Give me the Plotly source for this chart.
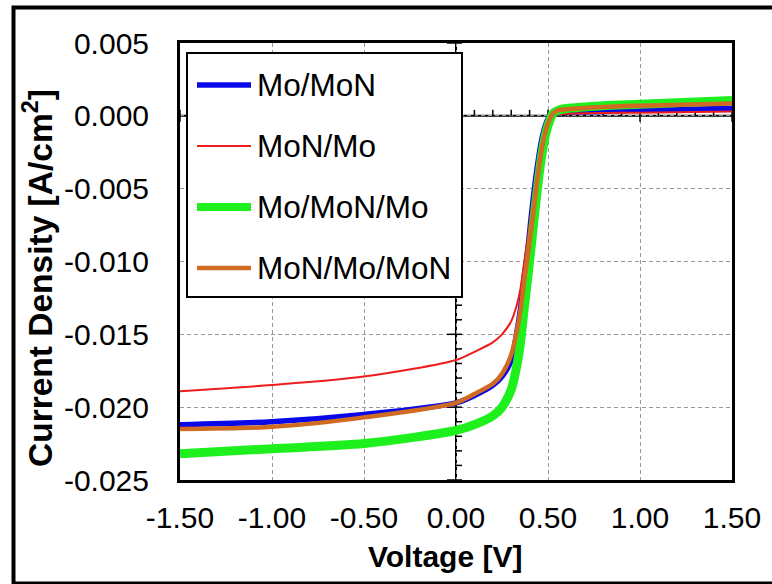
import plotly.graph_objects as go

# ---- J-V data (voltage in V, current density in A/cm^2) ----
voltage = [-1.5, -1.0, -0.5, 0.0, 0.1, 0.2, 0.25, 0.3, 0.33, 0.35, 0.37, 0.39,
           0.41, 0.43, 0.45, 0.47, 0.49, 0.51, 0.53, 0.56, 0.6, 0.8, 1.0, 1.5]

j_mo_mon = [-0.0212, -0.0210, -0.0205, -0.0197, -0.0192, -0.0185, -0.0179, -0.0168,
            -0.0149, -0.0133, -0.0111, -0.0092, -0.0068, -0.0046, -0.0028, -0.0014,
            -0.0005, 0.0000, 0.0001, 0.0002, 0.00025, 0.0003, 0.0004, 0.0005]

j_mon_mo = [-0.0189, -0.01848, -0.0179, -0.01676, -0.0162, -0.01555, -0.0150, -0.0141,
            -0.0130, -0.0119, -0.0102, -0.0084, -0.0065, -0.0047, -0.0031, -0.0017,
            -0.0007, -0.0001, 0.0001, 0.0001, 0.00015, 0.0002, 0.00022, 0.0003]

j_mo_mon_mo = [-0.0232, -0.02285, -0.0225, -0.0216, -0.0212, -0.0206, -0.0200, -0.0188,
               -0.0172, -0.0156, -0.0133, -0.0111, -0.0088, -0.0064, -0.0042, -0.0024,
               -0.0011, -0.0003, 0.0002, 0.0004, 0.0005, 0.0007, 0.0008, 0.00105]

j_mon_mo_mon = [-0.0215, -0.02135, -0.0207, -0.0197, -0.0191, -0.0184, -0.0177, -0.0164,
                -0.0148, -0.0134, -0.0114, -0.0096, -0.0077, -0.0056, -0.0036, -0.0020,
                -0.0009, -0.0002, 0.0002, 0.0004, 0.00045, 0.0006, 0.0007, 0.00085]

series_names = ["Mo/MoN", "MoN/Mo", "Mo/MoN/Mo", "MoN/Mo/MoN"]
series_values = [j_mo_mon, j_mon_mo, j_mo_mon_mo, j_mon_mo_mon]
series_colors = ["#0808e8", "#ee1c1c", "#1ef01e", "#d06c22"]
series_widths = [5.5, 2, 9, 4.5]

x_tickvals = [-1.5, -1.0, -0.5, 0.0, 0.5, 1.0, 1.5]
x_ticklabels = ["-1.50", "-1.00", "-0.50", "0.00", "0.50", "1.00", "1.50"]
y_tickvals = [0.005, 0.0, -0.005, -0.010, -0.015, -0.020, -0.025]
y_ticklabels = ["0.005", "0.000", "-0.005", "-0.010", "-0.015", "-0.020", "-0.025"]

# ---- page geometry (pixels) ----
W, H = 772, 584
L, R, T, B = 180, 732, 43, 480
FONT = "Liberation Sans, Arial, sans-serif"


def px(xp):
    return (xp - L) / (R - L)


def py(yp):
    return (B - yp) / (B - T)


fig = go.Figure()
for name, vals, col, w in zip(series_names, series_values, series_colors, series_widths):
    fig.add_trace(go.Scatter(
        x=voltage, y=vals, name=name, mode="lines",
        line=dict(color=col, width=w, shape="spline", smoothing=0.8),
        showlegend=False,
    ))

shapes = []
# axes crossing at the origin
shapes.append(dict(type="line", xref="x", yref="paper", x0=0, x1=0, y0=0, y1=1,
                   line=dict(color="black", width=2), layer="between"))
shapes.append(dict(type="line", xref="paper", yref="y", x0=0, x1=1, y0=0, y1=0,
                   line=dict(color="black", width=2), layer="between"))
# tick marks on the vertical zero axis (every 0.001)
for k in range(-25, 6):
    major = k % 5 == 0
    shapes.append(dict(type="line", xref="x", yref="y", xsizemode="pixel", xanchor=0,
                       x0=-9 if major else 0, x1=6, y0=k / 1000, y1=k / 1000,
                       line=dict(color="black", width=1.5), layer="between"))
# tick marks on the horizontal zero axis (every 0.1 V)
for k in range(-15, 16):
    major = k % 5 == 0
    shapes.append(dict(type="line", xref="x", yref="y", ysizemode="pixel", yanchor=0,
                       x0=k / 10, x1=k / 10, y0=-6 if major else 0, y1=6,
                       line=dict(color="black", width=1.5), layer="between"))

# legend box
shapes.append(dict(type="rect", xref="paper", yref="paper",
                   x0=px(187), x1=px(462), y0=py(297), y1=py(53),
                   line=dict(color="black", width=2), fillcolor="white", layer="above"))
legend_rows = [85, 146, 207, 268]
annotations = []
for name, col, w, yrow in zip(series_names, series_colors, series_widths, legend_rows):
    shapes.append(dict(type="line", xref="paper", yref="paper",
                       x0=px(197), x1=px(251), y0=py(yrow), y1=py(yrow),
                       line=dict(color=col, width=min(w, 8)), layer="above"))
    annotations.append(dict(xref="paper", yref="paper", x=px(255), y=py(yrow),
                            xanchor="left", yanchor="middle", showarrow=False,
                            text=name, font=dict(family=FONT, size=31.5, color="black")))

# outer frame
shapes.append(dict(type="rect", xref="paper", yref="paper",
                   x0=px(13.5), x1=px(777), y0=py(583.5), y1=py(7.5),
                   line=dict(color="black", width=4), fillcolor="rgba(0,0,0,0)", layer="above"))

# axis titles
annotations.append(dict(xref="paper", yref="paper", x=px(38), y=py(278),
                        xanchor="center", yanchor="middle", showarrow=False, textangle=-90,
                        text="Current Density [A/cm<sup>2</sup>]",
                        font=dict(family=FONT, size=33.5, color="black", weight="bold")))
annotations.append(dict(xref="paper", yref="paper", x=px(445), y=py(556),
                        xanchor="center", yanchor="middle", showarrow=False,
                        text="Voltage [V]",
                        font=dict(family=FONT, size=30, color="black", weight="bold")))

axis_common = dict(showgrid=True, gridcolor="#999999", griddash="4px,3px", gridwidth=1,
                   showline=True, linecolor="black", linewidth=3, mirror=True,
                   zeroline=False, ticks="", tickfont=dict(family=FONT, size=30, color="black"))

fig.update_layout(
    width=W, height=H,
    margin=dict(l=L, r=W - R, t=T, b=H - B, pad=0),
    paper_bgcolor="white", plot_bgcolor="white",
    showlegend=False,
    xaxis=dict(range=[-1.5, 1.5], tickmode="array", tickvals=x_tickvals,
               ticktext=x_ticklabels, ticklabelstandoff=9, **axis_common),
    yaxis=dict(range=[-0.025, 0.005], tickmode="array", tickvals=y_tickvals,
               ticktext=y_ticklabels, ticklabelstandoff=22, **axis_common),
    shapes=shapes,
    annotations=annotations,
)

fig.write_html("out.html")
